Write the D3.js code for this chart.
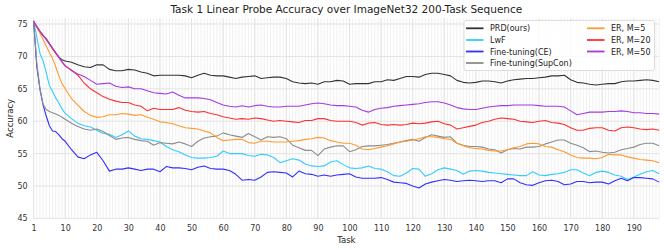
<!DOCTYPE html>
<html>
<head>
<meta charset="utf-8">
<script src="https://cdn.jsdelivr.net/npm/d3@7"></script>
<style>
  html, body { margin: 0; padding: 0; background: #fff; }
  svg { display: block; font-family: "DejaVu Sans", sans-serif; }
</style>
</head>
<body>
<svg id="chart" width="664" height="250"></svg>
<script>
// task index (0-based) of each sample
const tasks = [0,1,2,3,4,5,6,7,8,9,10,
  12,14,16,18,20,22,24,26,28,30,32,
  34,36,38,40,42,44,46,48,50,52,54,56,58,60,62,64,66,
  68,70,72,74,76,78,80,82,84,86,88,90,92,94,96,98,100,
  102,104,106,108,110,112,114,116,118,120,122,124,126,128,130,
  132,134,136,138,140,142,144,146,148,150,152,154,156,158,160,162,164,166,
  168,170,172,174,176,178,180,182,184,186,188,190,192,194,196,198];

const prd = [75.4,74.6,73.8,73.2,72.7,72.0,71.2,70.5,69.9,69.5,69.3,
  69.1,68.7,68.4,68.3,68.7,68.7,68.0,67.8,67.8,68.0,67.9,
  67.6,67.4,67.0,67.1,67.1,67.1,67.1,67.0,66.7,67.1,67.4,67.1,67.0,67.0,66.8,66.6,66.8,
  66.9,67.0,66.6,66.7,66.8,66.8,66.6,66.1,65.9,65.8,65.9,65.7,66.1,66.1,66.3,66.2,65.7,
  65.8,65.8,65.8,66.1,66.1,66.4,66.3,66.6,66.9,66.9,66.8,67.2,67.4,67.4,67.2,
  67.0,66.3,66.0,65.9,66.0,66.2,66.2,66.1,65.9,66.2,66.4,66.5,66.6,66.6,66.7,66.8,67.0,67.0,
  67.1,66.4,66.0,65.9,65.7,65.6,65.7,65.8,65.8,66.1,66.2,66.2,66.3,66.4,66.3,66.1];

const lwf = [75.5,73.0,70.5,69.3,67.5,65.5,64.6,63.6,62.8,61.9,61.2,
  60.4,59.7,59.3,59.1,58.6,58.1,58.0,57.5,57.9,58.5,57.7,
  57.3,57.2,57.0,56.8,56.1,55.6,55.3,54.8,54.4,54.3,54.3,54.4,54.6,55.4,55.0,55.0,55.0,
  54.7,54.6,54.9,54.8,54.4,53.6,53.9,54.2,54.0,53.4,53.1,53.0,53.1,53.7,53.9,53.3,52.8,
  52.7,52.8,53.1,52.7,52.6,52.2,51.6,51.5,52.0,52.7,52.6,51.5,51.9,52.5,52.8,
  52.6,52.4,51.8,52.3,52.4,52.3,52.1,52.0,51.9,51.8,51.7,51.6,51.6,52.2,51.7,51.6,51.8,51.9,
  52.1,52.5,52.5,52.0,51.6,52.1,52.3,52.1,51.7,51.5,51.0,51.4,51.8,52.2,52.4,51.9];

const ftCE = [75.5,68.5,65.0,62.5,60.8,59.3,58.5,58.4,57.9,57.3,56.9,
  55.6,54.5,54.2,54.8,55.2,53.9,52.3,52.6,52.6,52.8,52.6,
  52.4,52.6,52.6,52.2,53.0,52.8,52.8,52.7,52.5,52.9,53.1,52.7,52.6,52.6,52.4,51.8,50.9,
  51.0,50.9,51.4,52.1,52.2,52.1,52.0,51.4,52.3,51.9,51.8,51.5,51.7,51.5,51.7,51.8,51.9,
  51.4,51.2,51.2,51.2,51.3,51.0,50.6,50.5,50.4,50.0,49.7,50.3,50.6,50.8,51.0,
  50.9,50.7,50.8,50.9,50.8,50.7,50.8,50.8,50.5,51.1,51.1,50.5,50.2,50.1,50.5,50.8,50.9,50.7,
  50.2,50.3,50.7,50.7,50.5,50.6,50.6,50.3,50.8,51.2,50.8,51.3,51.3,51.2,51.1,50.6];

const ftSupCon = [75.4,69.0,65.0,62.6,61.8,61.5,61.3,61.1,60.9,60.6,60.3,
  59.7,59.2,58.8,58.6,58.8,58.4,57.8,57.2,57.4,57.5,57.2,
  57.0,56.9,56.3,56.7,56.6,56.5,56.8,56.5,56.1,56.9,57.4,57.6,57.7,58.2,57.9,57.7,57.5,
  58.1,57.6,57.1,57.6,57.5,57.6,57.3,56.3,55.9,55.5,55.5,54.7,55.7,56.0,56.2,56.2,55.3,
  55.6,56.1,56.2,56.2,56.3,56.4,56.6,56.8,57.0,57.2,56.9,57.5,57.9,57.7,57.5,
  57.6,56.6,56.3,56.1,56.1,56.0,55.7,55.6,55.1,55.6,55.8,55.7,56.0,56.0,56.1,56.5,56.8,57.1,
  57.1,56.6,56.3,55.9,55.3,55.4,55.2,55.1,55.2,55.6,55.8,56.0,56.4,56.6,56.6,56.2];

const erM5 = [75.4,74.5,73.6,72.6,71.6,70.6,69.7,68.4,67.0,65.8,65.0,
  63.5,62.5,61.5,60.9,60.6,60.7,61.0,61.0,61.2,61.1,60.9,
  61.0,60.6,60.3,59.9,59.8,59.6,59.3,59.0,58.9,58.8,58.5,58.2,57.5,57.0,57.1,57.2,57.2,
  56.7,56.6,56.9,56.9,56.8,56.8,56.8,56.9,57.0,57.2,57.3,57.5,57.4,57.0,56.8,56.6,56.6,
  56.3,55.7,55.6,55.8,56.0,56.2,56.5,56.8,56.9,57.1,57.3,57.6,57.6,57.5,57.3,
  57.2,56.6,56.2,55.9,55.8,55.7,55.5,55.4,55.4,55.6,55.9,56.1,56.5,56.6,56.5,56.1,56.0,55.6,
  55.3,54.8,54.4,54.3,54.3,54.2,54.4,54.9,54.8,54.8,54.5,54.3,54.1,54.0,53.9,53.6];

const erM20 = [75.4,74.6,73.9,73.2,72.6,71.9,71.2,70.5,69.8,69.1,68.5,
  67.9,67.1,65.9,65.0,64.4,63.8,63.4,63.1,62.9,62.9,62.5,
  62.3,61.6,62.0,61.8,61.8,61.8,62.1,61.7,61.5,61.4,61.5,61.2,61.0,60.7,60.5,60.3,60.4,
  60.3,60.5,60.4,60.2,60.0,60.1,60.0,59.9,59.8,60.1,60.1,60.4,60.4,60.1,60.0,60.0,60.0,
  59.8,59.4,59.7,59.8,59.5,59.4,59.5,59.4,59.5,59.7,59.6,59.7,59.9,60.0,59.6,
  59.4,58.8,59.0,59.2,59.4,59.8,60.0,60.3,60.5,60.4,60.3,60.0,59.9,59.8,60.0,60.1,59.8,59.7,
  59.5,59.0,58.6,58.6,58.9,59.0,59.0,58.6,58.5,59.0,59.1,59.0,58.8,58.7,58.8,58.6];

const erM50 = [75.4,74.6,73.9,73.3,72.7,72.0,71.3,70.6,69.9,69.2,68.6,
  67.8,67.3,66.9,66.3,65.7,65.8,65.9,65.4,65.2,65.3,65.0,
  65.0,64.7,64.4,64.3,64.2,64.5,64.0,63.6,63.6,63.6,63.5,63.3,62.9,62.5,62.3,62.2,62.4,
  62.2,62.4,62.5,62.3,62.2,62.2,62.3,62.3,62.3,62.5,62.7,62.8,62.7,62.5,62.4,62.4,62.3,
  62.2,61.7,61.4,61.8,62.0,62.1,62.3,62.4,62.5,62.6,62.7,62.9,63.0,63.0,62.8,
  62.5,62.1,61.9,61.8,61.8,62.0,62.2,62.3,62.4,62.4,62.5,62.5,62.5,62.5,62.4,62.3,62.3,62.3,
  62.2,61.6,61.0,61.2,61.4,61.4,61.4,61.5,61.5,61.6,61.5,61.3,61.3,61.2,61.2,61.1];

const seriesNames = ["PRD(ours)", "LwF", "Fine-tuning(CE)", "Fine-tuning(SupCon)", "ER, M=5", "ER, M=20", "ER, M=50"];
const seriesValues = [prd, lwf, ftCE, ftSupCon, erM5, erM20, erM50];
const seriesColors = ["#333333", "#33ccff", "#3030ff", "#8c8c8c", "#ff9a2e", "#ff3030", "#a63be0"];

const xTickValues = [0,10,20,30,40,50,60,70,80,90,100,110,120,130,140,150,160,170,180,190];
const xTickLabels = ["1","10","20","30","40","50","60","70","80","90","100","110","120","130","140","150","160","170","180","190"];
const yTickValues = [45,50,55,60,65,70,75];

const svg = d3.select("#chart");
const plotL = 33.6, plotR = 659.1, plotT = 18.2, plotB = 218.4;

const x = d3.scaleLinear().domain([0, 198]).range([plotL, plotR]);
const y = d3.scaleLinear().domain([45, 75.9]).range([plotB, plotT]);

// grid: one faint line per task, stronger at ticks
svg.append("g").selectAll("line").data(d3.range(0, 199)).join("line")
  .attr("x1", d => x(d)).attr("x2", d => x(d))
  .attr("y1", plotT).attr("y2", plotB)
  .attr("stroke", "#f0f0f0").attr("stroke-width", 1);

svg.append("g").selectAll("line").data(xTickValues).join("line")
  .attr("x1", d => x(d)).attr("x2", d => x(d))
  .attr("y1", plotT).attr("y2", plotB)
  .attr("stroke", "#e3e3e3").attr("stroke-width", 1);

svg.append("g").selectAll("line").data(yTickValues).join("line")
  .attr("x1", plotL).attr("x2", plotR)
  .attr("y1", d => y(d)).attr("y2", d => y(d))
  .attr("stroke", "#e3e3e3").attr("stroke-width", 1);

// axes (labels only)
const xAxis = svg.append("g")
  .attr("transform", `translate(0,${plotB})`)
  .call(d3.axisBottom(x).tickValues(xTickValues)
    .tickFormat((d, i) => xTickLabels[i]).tickSize(0).tickPadding(7));
const yAxis = svg.append("g")
  .attr("transform", `translate(${plotL},0)`)
  .call(d3.axisLeft(y).tickValues(yTickValues).tickSize(0).tickPadding(6));
[xAxis, yAxis].forEach(a => {
  a.select(".domain").remove();
  a.selectAll("text").attr("font-family", "DejaVu Sans").attr("font-size", 8).attr("fill", "#333");
});

// lines
const line = d3.line().x((d, i) => x(tasks[i])).y(d => y(d));
svg.append("g").selectAll("path").data(seriesValues).join("path")
  .attr("d", d => line(d))
  .attr("fill", "none")
  .attr("stroke", (d, i) => seriesColors[i])
  .attr("stroke-width", 1.1)
  .attr("stroke-linejoin", "round");

// titles
svg.append("text").attr("x", (plotL + plotR) / 2).attr("y", 13)
  .attr("text-anchor", "middle").attr("font-size", 10.5).attr("fill", "#222")
  .text("Task 1 Linear Probe Accuracy over ImageNet32 200-Task Sequence");
svg.append("text").attr("x", (plotL + plotR) / 2).attr("y", 242.5)
  .attr("text-anchor", "middle").attr("font-size", 8.5).attr("fill", "#222")
  .text("Task");
svg.append("text")
  .attr("transform", `translate(12.5,${(plotT + plotB) / 2}) rotate(-90)`)
  .attr("text-anchor", "middle").attr("font-size", 8.5).attr("fill", "#222")
  .text("Accuracy");

// legend
const lg = svg.append("g");
lg.append("rect").attr("x", 464).attr("y", 20.5).attr("width", 190.5).attr("height", 50)
  .attr("rx", 2).attr("fill", "#fff").attr("fill-opacity", 0.85)
  .attr("stroke", "#d6d6d6").attr("stroke-width", 0.8);
const legendPos = [[466, 28.3], [466, 40], [466, 51.5], [466, 63], [587, 28.3], [587, 40], [587, 51.5]];
seriesNames.forEach((name, i) => {
  const [lx, ly] = legendPos[i];
  lg.append("line").attr("x1", lx).attr("x2", lx + 17.5).attr("y1", ly).attr("y2", ly)
    .attr("stroke", seriesColors[i]).attr("stroke-width", 1.8);
  lg.append("text").attr("x", lx + 24).attr("y", ly + 3)
    .attr("font-size", 8).attr("fill", "#222").text(name);
});
</script>
</body>
</html>
